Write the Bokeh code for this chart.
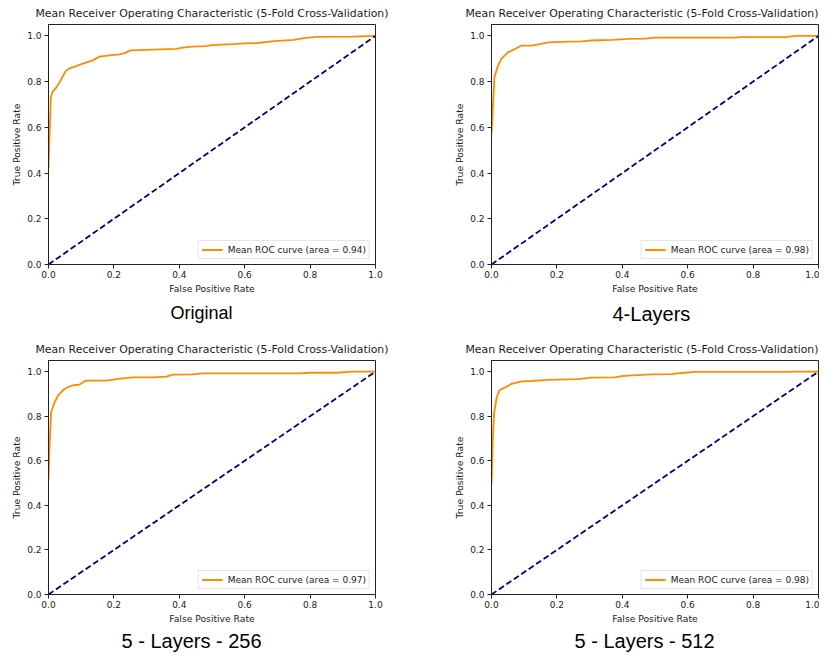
from bokeh.plotting import figure
from bokeh.layouts import column, row
from bokeh.models import Title, FixedTicker, PrintfTickFormatter, Range1d
from bokeh.embed import file_html
from bokeh.resources import INLINE

# ---------------- data ----------------
panel_names = ["Original", "4-Layers", "5 - Layers - 256", "5 - Layers - 512"]
aucs = [0.94, 0.98, 0.97, 0.98]
chart_title = "Mean Receiver Operating Characteristic (5-Fold Cross-Validation)"
x_label = "False Positive Rate"
y_label = "True Positive Rate"
tick_values = [0.0, 0.2, 0.4, 0.6, 0.8, 1.0]

fpr_original = [0.0, 0.007, 0.012, 0.024, 0.035, 0.052, 0.062, 0.080, 0.105, 0.135,
                0.150, 0.160, 0.180, 0.217, 0.235, 0.250, 0.320, 0.390, 0.410, 0.440,
                0.480, 0.500, 0.563, 0.600, 0.640, 0.690, 0.750, 0.780, 0.820, 0.930, 1.0]
tpr_original = [0.42, 0.73, 0.755, 0.775, 0.80, 0.845, 0.857, 0.866, 0.879, 0.893,
                0.905, 0.911, 0.914, 0.919, 0.926, 0.937, 0.940, 0.943, 0.949, 0.953,
                0.955, 0.960, 0.964, 0.967, 0.969, 0.977, 0.983, 0.990, 0.996, 0.997, 1.0]

fpr_4layers = [0.0, 0.009, 0.02, 0.03, 0.05, 0.07, 0.092, 0.122, 0.148, 0.173, 0.213,
               0.275, 0.305, 0.37, 0.42, 0.47, 0.50, 0.745, 0.76, 0.90, 0.928, 1.0]
tpr_4layers = [0.57, 0.82, 0.87, 0.90, 0.928, 0.942, 0.958, 0.958, 0.964, 0.972, 0.974,
               0.976, 0.980, 0.983, 0.987, 0.988, 0.993, 0.993, 0.995, 0.995, 1.0, 1.0]

fpr_5l256 = [0.0, 0.004, 0.008, 0.017, 0.029, 0.048, 0.063, 0.077, 0.095, 0.112, 0.12,
             0.178, 0.212, 0.258, 0.319, 0.36, 0.38, 0.44, 0.472, 0.767, 0.798, 0.88, 0.93, 1.0]
tpr_5l256 = [0.517, 0.69, 0.82, 0.856, 0.893, 0.921, 0.933, 0.939, 0.942, 0.958, 0.96,
             0.96, 0.968, 0.974, 0.974, 0.978, 0.987, 0.988, 0.992, 0.992, 0.995, 0.995, 1.0, 1.0]

fpr_5l512 = [0.0, 0.004, 0.008, 0.016, 0.024, 0.031, 0.04, 0.061, 0.092, 0.12, 0.173,
             0.265, 0.305, 0.377, 0.398, 0.43, 0.49, 0.55, 0.582, 0.622, 0.908, 0.929, 1.0]
tpr_5l512 = [0.495, 0.70, 0.815, 0.885, 0.915, 0.922, 0.928, 0.945, 0.956, 0.958, 0.963,
             0.966, 0.973, 0.974, 0.980, 0.983, 0.988, 0.989, 0.994, 0.999, 0.999, 1.0, 1.0]

chance_x = [0.0, 1.0]
chance_y = [0.0, 1.0]

curves = [(fpr_original, tpr_original), (fpr_4layers, tpr_4layers),
          (fpr_5l256, tpr_5l256), (fpr_5l512, tpr_5l512)]

# ---------------- styling / layout ----------------
TXT = "#1a1a1a"
MPL_FONT = "DejaVu Sans"

# per panel: (width, height, border_left, border_right, border_top, border_bottom,
#             title align, caption size, caption left offset, caption standoff)
geo = [
    (411, 336, 48, 36, 22, 72, "center", "18px", 122, 8),
    (408, 336, 80, 1, 22, 72, "right", "20px", 121, 8),
    (411, 316, 48, 36, 22, 54, "center", "20px", 73, 2),
    (408, 316, 80, 1, 22, 54, "right", "20px", 83, 2),
]


def make_panel(i):
    w, h, bl, br, bt, bb, talign, csize, coff, cstand = geo[i]
    fpr, tpr = curves[i]
    p = figure(width=w, height=h, output_backend="svg", toolbar_location=None,
               x_range=Range1d(0, 1), y_range=Range1d(0, 1.05),
               min_border_left=bl, min_border_right=br,
               min_border_top=bt, min_border_bottom=bb,
               background_fill_color="white", border_fill_color="white")
    p.title.text = chart_title
    p.title.align = talign
    p.title.offset = 0
    p.title.text_font = MPL_FONT
    p.title.text_font_size = "10.9px"
    p.title.text_font_style = "normal"
    p.title.text_color = TXT
    p.title.standoff = 9

    p.grid.visible = False
    p.outline_line_color = "#222222"
    p.outline_line_width = 1
    p.outline_line_alpha = 1

    for ax in (p.xaxis[0], p.yaxis[0]):
        ax.ticker = FixedTicker(ticks=tick_values)
        ax.formatter = PrintfTickFormatter(format="%.1f")
        ax.minor_tick_line_color = None
        ax.major_tick_in = 0
        ax.major_tick_out = 4
        ax.major_tick_line_color = "#222222"
        ax.axis_line_color = "#222222"
        ax.major_label_text_font = MPL_FONT
        ax.major_label_text_font_size = "9px"
        ax.major_label_text_color = TXT
        ax.axis_label_text_font = MPL_FONT
        ax.axis_label_text_font_size = "9.2px"
        ax.axis_label_text_font_style = "normal"
        ax.axis_label_text_color = TXT
    p.xaxis.axis_label = x_label
    p.yaxis.axis_label = y_label
    p.xaxis.major_label_standoff = 2
    p.xaxis.axis_label_standoff = 2
    p.yaxis.major_label_standoff = 3
    p.yaxis.axis_label_standoff = 2

    p.line(fpr, tpr, line_color="#ff8c00", line_width=1.8,
           legend_label=f"Mean ROC curve (area = {aucs[i]:.2f})")
    p.line(chance_x, chance_y, line_color="#000080", line_width=1.8, line_dash="6 3")

    lg = p.legend[0]
    lg.location = "bottom_right"
    lg.margin = 5
    lg.padding = 3
    lg.spacing = 0
    lg.glyph_width = 21
    lg.glyph_height = 11
    lg.label_height = 11
    lg.label_standoff = 5
    lg.label_text_font = MPL_FONT
    lg.label_text_font_size = "9px"
    lg.label_text_color = TXT
    lg.border_line_color = "#cccccc"
    lg.border_line_width = 1
    lg.background_fill_color = "white"
    lg.background_fill_alpha = 0.8

    cap = Title(text=panel_names[i], align="left", offset=coff, standoff=cstand,
                text_font="Liberation Sans", text_font_size=csize,
                text_font_style="normal", text_color="black")
    p.add_layout(cap, "below")
    return p


panels = [make_panel(i) for i in range(4)]
layout = column(row(panels[0], panels[1]), row(panels[2], panels[3]))

open("out.html", "w").write(file_html(layout, INLINE))
